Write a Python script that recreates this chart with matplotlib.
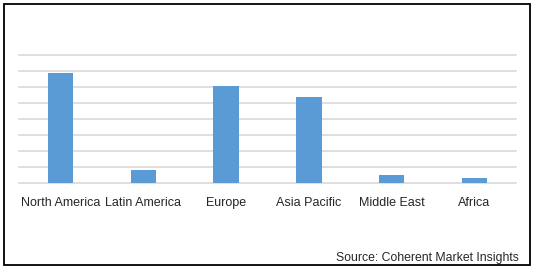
import matplotlib
matplotlib.use("Agg")
import matplotlib.pyplot as plt
from matplotlib.patches import Rectangle

regions = ["North America", "Latin America", "Europe", "Asia Pacific", "Middle East", "Africa"]
values = [6.9, 0.83, 6.08, 5.39, 0.52, 0.33]
grid_ticks = [0, 1, 2, 3, 4, 5, 6, 7, 8]
source = "Source: Coherent Market Insights"

plt.rcParams["font.family"] = ["Liberation Sans", "DejaVu Sans"]

fig = plt.figure(figsize=(5.34, 2.69), dpi=100)
ax = fig.add_axes([19.3 / 534, 1 - 183.3 / 269, (515.7 - 19.3) / 534, (183.3 - 55.3) / 269])

x = range(len(regions))
ax.bar(x, values, width=0.31, color="#5B9BD5", zorder=3)
ax.set_xlim(-0.5, len(regions) - 0.5)
ax.set_ylim(0, 8)
ax.set_yticks(grid_ticks)
ax.yaxis.grid(True, color="#D9D9D9", linewidth=1.2, zorder=0)
for gl in ax.get_ygridlines():
    gl.set_clip_on(False)
ax.set_yticklabels([])
ax.tick_params(axis="both", length=0)
ax.set_xticks(list(x))
ax.set_xticklabels(regions, fontsize=9, color="#262626")
ax.tick_params(axis="x", pad=10)
for s in ax.spines.values():
    s.set_visible(False)

fig.patches.append(Rectangle((3.5 / 534, 1 - 265 / 269), (529.5 - 3.5) / 534, (265 - 3.5) / 269,
                             transform=fig.transFigure, fill=False, edgecolor="black",
                             linewidth=1.3))
fig.text(519 / 534, 1 - 258 / 269, source, ha="right", va="center", fontsize=8.8, color="#262626")

fig.savefig("out.png", dpi=100)
